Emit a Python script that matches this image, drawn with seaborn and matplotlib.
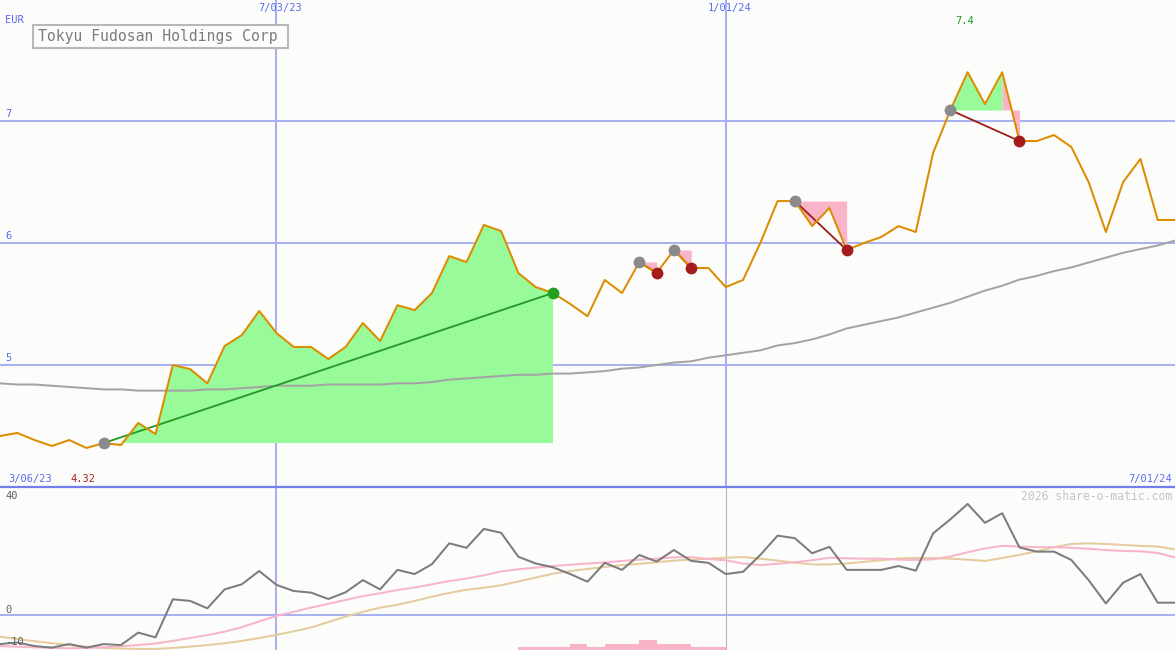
import numpy as np
import pandas as pd
import seaborn as sns
import matplotlib.pyplot as plt
from matplotlib.lines import Line2D
from matplotlib.patches import Rectangle

# weekly closes, Tokyu Fudosan (EUR), 13 Mar 2023 .. 1 Jul 2024
price = [4.418, 4.443, 4.385, 4.336, 4.385, 4.32, 4.36, 4.344, 4.525, 4.434,
         5.0, 4.967, 4.85, 5.156, 5.246, 5.443, 5.262, 5.148, 5.148, 5.049,
         5.148, 5.344, 5.197, 5.49, 5.45, 5.59, 5.893, 5.844, 6.148, 6.098,
         5.754, 5.639, 5.59, 5.50, 5.40, 5.697, 5.59, 5.844, 5.754, 5.943,
         5.795, 5.795, 5.639, 5.697, 6.0, 6.344, 6.344, 6.139, 6.287, 5.943,
         6.0, 6.049, 6.139, 6.09, 6.738, 7.09, 7.40, 7.139, 7.40, 6.836,
         6.836, 6.885, 6.787, 6.5, 6.09, 6.5, 6.689, 6.189, 6.189]

moving_avg = [4.85, 4.84, 4.84, 4.83, 4.82, 4.81, 4.80, 4.80, 4.79, 4.79,
              4.79, 4.79, 4.80, 4.80, 4.81, 4.82, 4.83, 4.83, 4.83, 4.84,
              4.84, 4.84, 4.84, 4.85, 4.85, 4.86, 4.88, 4.89, 4.90, 4.91,
              4.92, 4.92, 4.93, 4.93, 4.94, 4.95, 4.97, 4.98, 5.00, 5.02,
              5.03, 5.06, 5.08, 5.10, 5.12, 5.16, 5.18, 5.21, 5.25, 5.30,
              5.33, 5.36, 5.39, 5.43, 5.47, 5.51, 5.56, 5.61, 5.65, 5.70,
              5.73, 5.77, 5.80, 5.84, 5.88, 5.92, 5.95, 5.98, 6.02]

# lower panel oscillator
osc = [-9.1, -8.6, -9.7, -10.2, -9.1, -10.2, -9.1, -9.4, -5.5, -7.0,
       4.9, 4.4, 2.1, 8.0, 9.6, 13.75, 9.4, 7.5, 7.0, 5.0,
       7.1, 10.9, 8.0, 14.1, 12.8, 15.9, 22.4, 21.0, 26.9, 25.7,
       18.2, 16.1, 14.9, 12.8, 10.4, 16.3, 14.1, 18.75, 16.7, 20.3,
       16.9, 16.3, 12.8, 13.5, 18.75, 24.8, 24.0, 19.3, 21.3, 14.1,
       14.1, 14.1, 15.3, 13.85, 25.5, 29.9, 34.7, 28.8, 31.8, 21.1,
       19.8, 19.8, 17.2, 10.9, 3.6, 10.1, 12.8, 3.85, 3.85]

osc_fast = [-9.7, -9.9, -10.1, -10.3, -10.4, -10.3, -10.1, -9.8, -9.4, -8.9,
            -8.1, -7.2, -6.3, -5.2, -3.8, -2.0, -0.3, 1.0, 2.3, 3.5,
            4.7, 5.9, 6.8, 7.8, 8.6, 9.6, 10.6, 11.4, 12.4, 13.6,
            14.3, 14.8, 15.3, 15.7, 16.1, 16.4, 16.9, 17.3, 17.6, 18.0,
            18.1, 17.5, 17.1, 16.1, 15.6, 16.0, 16.5, 17.1, 17.9, 17.7,
            17.6, 17.6, 17.3, 17.2, 17.4, 18.3, 19.6, 20.8, 21.6, 21.4,
            21.2, 21.2, 21.0, 20.7, 20.3, 20.0, 19.9, 19.4, 18.0]

osc_slow = [-6.8, -7.5, -8.2, -8.8, -9.4, -9.9, -10.3, -10.5, -10.6, -10.6,
            -10.3, -9.9, -9.4, -8.85, -8.1, -7.2, -6.2, -5.1, -3.9, -2.2,
            -0.5, 1.0, 2.3, 3.2, 4.4, 5.7, 6.9, 7.9, 8.5, 9.3,
            10.5, 11.7, 12.9, 13.7, 14.4, 15.0, 15.6, 16.0, 16.5, 17.0,
            17.3, 17.6, 17.9, 18.1, 17.6, 17.0, 16.35, 15.8, 15.8, 16.1,
            16.6, 17.1, 17.7, 17.8, 17.8, 17.6, 17.3, 16.9, 17.8, 18.8,
            19.9, 21.2, 22.2, 22.4, 22.2, 21.9, 21.6, 21.4, 20.5]

bar_week = [30, 31, 32, 33, 34, 35, 36, 37, 38, 39, 40, 41]
bar_height = [1, 1, 1, 2, 1, 2, 2, 3, 2, 2, 1, 1]

# trades: (start week, end week, won)
trades = [(6, 32, True), (37, 38, False), (39, 40, False), (46, 49, False), (55, 59, False)]

date_marks = {16: "7/03/23", 42: "1/01/24"}

W, H = 1175, 650
BG = "#fcfdfa"
GRID = "#a8b2f0"
SEP = "#7080e8"
BLUE_TXT = "#5a6af0"
ORANGE = "#dd8c00"
GREEN_FILL = "#98fa98"
PINK_FILL = "#fab4c8"
LW = 1.45
MONO = "DejaVu Sans Mono"

sns.set_style("white")
plt.rcParams["font.family"] = [MONO, "DejaVu Sans"]

df = pd.DataFrame({"week": np.arange(len(price)), "price": price, "ma": moving_avg,
                   "osc": osc, "fast": osc_fast, "slow": osc_slow})
x = df["week"].to_numpy()
p = df["price"].to_numpy()

fig = plt.figure(figsize=(W / 100, H / 100), dpi=100, facecolor=BG)
split = (H - 487) / H
ax = fig.add_axes([0, split, 1, 1 - split])
ax2 = fig.add_axes([0, 0, 1, split])
for a in (ax, ax2):
    a.set_facecolor(BG)
    a.set_xlim(0, 68)
    a.set_xticks([])
    a.set_yticks([])
    for s in a.spines.values():
        s.set_visible(False)
ax.set_ylim(4.0, 7.992)
ax2.set_ylim(-10.94, 40)

# grid
for lvl in (5, 6, 7):
    ax.axhline(lvl, color=GRID, lw=LW, zorder=0)
for wk in date_marks:
    ax.axvline(wk, color=GRID, lw=LW, zorder=0)
ax2.axvline(16, color=GRID, lw=LW, zorder=0)
ax2.axvline(42, color="#b4b4c8", lw=0.8, zorder=0)
ax2.axhline(0, color=GRID, lw=LW, zorder=0)


def shade_sign(xs, ps, base):
    ax.fill_between(xs, ps, base, where=ps >= base, interpolate=True, color=GREEN_FILL, lw=0, zorder=1)
    ax.fill_between(xs, ps, base, where=ps < base, interpolate=True, color=PINK_FILL, lw=0, zorder=1)


# trade shading
for s, e, won in trades:
    base = p[s]
    if won:
        shade_sign(x[s:e + 1], p[s:e + 1], base)
    else:
        if e - 1 > s:
            shade_sign(x[s:e], p[s:e], base)
        # last leg of a losing trade is pink all over
        ax.fill_between(x[e - 1:e + 1], p[e - 1:e + 1], base, color=PINK_FILL, lw=0, zorder=1)

sns.lineplot(data=df, x="week", y="ma", ax=ax, color="#a4a4a4", lw=LW, zorder=2)
for s, e, won in trades:
    ax.plot([s, e], [p[s], p[e]], color="#229a22" if won else "#9c1c1c", lw=1.3, zorder=2)
sns.lineplot(data=df, x="week", y="price", ax=ax, color=ORANGE, lw=LW, zorder=3)
for s, e, won in trades:
    ax.plot(s, p[s], "o", ms=8.5, color="#8a8a8a", mec="none", zorder=4)
    ax.plot(e, p[e], "o", ms=8.5, color="#22a022" if won else "#a41c1c", mec="none", zorder=4)
ax.set_xlabel("")
ax.set_ylabel("")

# lower panel
ax2.bar(bar_week, bar_height, width=1, align="edge", bottom=-10.94, color=PINK_FILL, lw=0, zorder=1)
sns.lineplot(data=df, x="week", y="slow", ax=ax2, color="#e4cc9c", lw=LW, zorder=2)
sns.lineplot(data=df, x="week", y="fast", ax=ax2, color="#f8b4c8", lw=LW, zorder=2)
sns.lineplot(data=df, x="week", y="osc", ax=ax2, color="#7c7c7c", lw=LW, zorder=3)
ax2.set_xlabel("")
ax2.set_ylabel("")

fig.add_artist(Line2D([0, 1], [split, split], transform=fig.transFigure, color=SEP, lw=1.6))


def ftext(px, py, s, **kw):
    fig.text(px / W, 1 - py / H, s, va="center", **kw)


ftext(5, 20, "EUR", color=BLUE_TXT, fontsize=7.5)
for wk, lab in date_marks.items():
    ftext(wk * W / 68 + 4, 8, lab, color=BLUE_TXT, fontsize=7.5, ha="center")
for lvl in (5, 6, 7):
    ftext(5, 365 - (lvl - 5) * 122 - 7, str(lvl), color=BLUE_TXT, fontsize=7.5)
ftext(8, 479, "3/06/23", color=BLUE_TXT, fontsize=7.5)
ftext(1172, 479, "7/01/24", color=BLUE_TXT, fontsize=7.5, ha="right")
ftext(70, 479, f"{min(price):.2f}", color="#a02020", fontsize=7.5)
ftext(955, 21, f"{max(price):.1f}", color="#229a22", fontsize=7.5)

ftext(5, 496, "40", color="#606060", fontsize=7.5)
ftext(5, 610, "0", color="#606060", fontsize=7.5)
ftext(5, 642, "-10", color="#606060", fontsize=7.5, zorder=0)
ftext(1172, 496, "2026 share-o-matic.com", color="#c4c4c4", fontsize=8.3, ha="right")

fig.add_artist(Rectangle((33 / W, 1 - 48 / H), 255 / W, 23 / H, transform=fig.transFigure,
                         facecolor=BG, edgecolor="#b8b8b8", lw=1.5))
ftext(38, 37, "Tokyu Fudosan Holdings Corp", color="#7c7c7c", fontsize=10.6)

fig.savefig("out.png", dpi=100, facecolor=BG)
